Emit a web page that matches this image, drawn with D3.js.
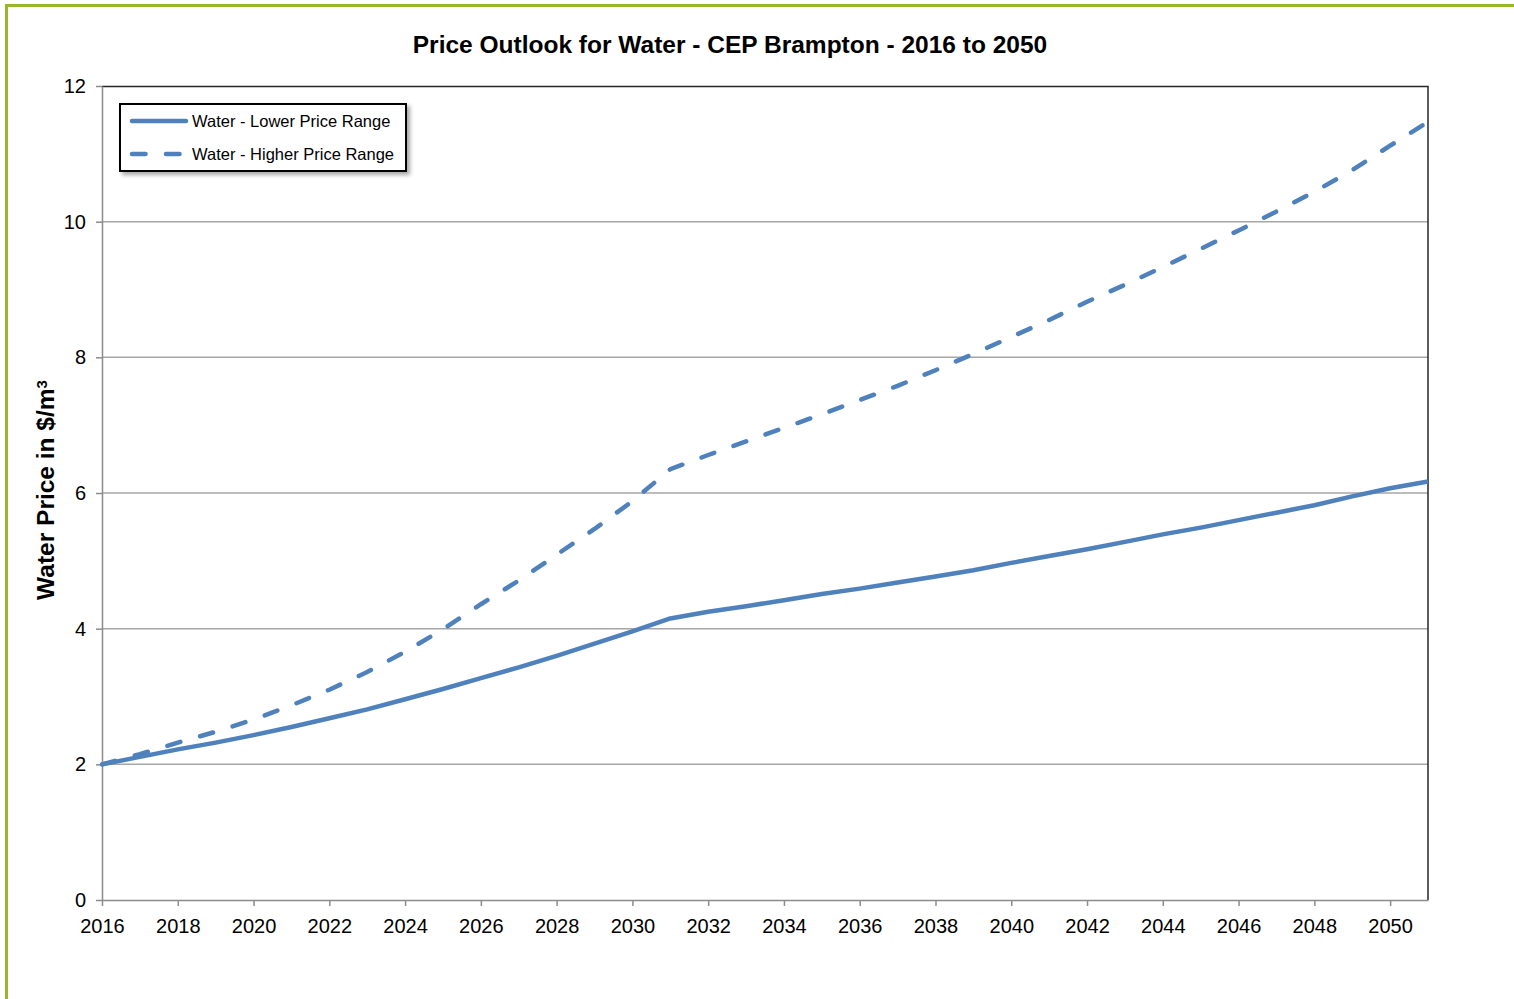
<!DOCTYPE html>
<html>
<head>
<meta charset="utf-8">
<script src="https://cdn.jsdelivr.net/npm/d3@7"></script>
<style>
  body { margin: 0; background: #fff; }
  svg { font-family: "Liberation Sans", Arial, sans-serif; display: block; }
</style>
</head>
<body>
<svg id="chart"></svg>
<script>
// data
var years = d3.range(2016, 2052);
var lowerPrice = [2.00, 2.11, 2.22, 2.32, 2.43, 2.55, 2.68, 2.81, 2.96, 3.11,
                  3.27, 3.43, 3.60, 3.78, 3.96, 4.15, 4.25, 4.33, 4.42, 4.51,
                  4.59, 4.68, 4.77, 4.86, 4.97, 5.07, 5.17, 5.28, 5.39, 5.49,
                  5.60, 5.71, 5.82, 5.95, 6.07, 6.17];
var higherPrice = [2.00, 2.15, 2.32, 2.48, 2.66, 2.87, 3.10, 3.36, 3.66, 3.99,
                   4.36, 4.71, 5.09, 5.47, 5.88, 6.35, 6.56, 6.76, 6.96, 7.16,
                   7.37, 7.58, 7.81, 8.05, 8.30, 8.55, 8.82, 9.07, 9.33, 9.60,
                   9.87, 10.15, 10.44, 10.76, 11.12, 11.47];
var xTicks = d3.range(2016, 2051, 2);
var yTicks = [0, 2, 4, 6, 8, 10, 12];
var seriesNames = ["Water - Lower Price Range", "Water - Higher Price Range"];

var W = 1514, H = 999;
var margin = {top: 86, right: 86, bottom: 99, left: 102},
    width = W - margin.left - margin.right,
    height = H - margin.top - margin.bottom;

var blue = "#4f81bd";

var svg = d3.select("#chart").attr("width", W).attr("height", H);

// green frame (top and left)
svg.append("line").attr("x1", 5).attr("x2", W).attr("y1", 5.5).attr("y2", 5.5)
  .attr("stroke", "#97b82c").attr("stroke-width", 3);
svg.append("line").attr("x1", 6.5).attr("x2", 6.5).attr("y1", 4).attr("y2", H)
  .attr("stroke", "#97b82c").attr("stroke-width", 3);

var g = svg.append("g")
  .attr("transform", "translate(" + margin.left + "," + margin.top + ")");

var x = d3.scaleLinear().domain([2016, 2051]).range([0, width]);
var y = d3.scaleLinear().domain([0, 12]).range([height, 0]);

// gridlines
g.append("g").selectAll("line")
  .data(yTicks.filter(function(d) { return d > 0 && d < 12; }))
  .enter().append("line")
  .attr("x1", 0).attr("x2", width)
  .attr("y1", function(d) { return y(d); }).attr("y2", function(d) { return y(d); })
  .attr("stroke", "#a6a6a6").attr("stroke-width", 1.5);

// top & right border
g.append("path")
  .attr("d", "M0,0.5H" + width + "V" + height)
  .attr("fill", "none").attr("stroke", "#262626").attr("stroke-width", 1.5);

// axes
var xAxis = g.append("g")
  .attr("transform", "translate(0," + height + ")")
  .call(d3.axisBottom(x).tickValues(xTicks).tickFormat(d3.format("d"))
        .tickSizeInner(6).tickSizeOuter(0).tickPadding(8));
var yAxis = g.append("g")
  .call(d3.axisLeft(y).tickValues(yTicks).tickSizeInner(6).tickSizeOuter(0).tickPadding(10));

[xAxis, yAxis].forEach(function(a) {
  a.select(".domain").attr("stroke", "#8c8c8c").attr("stroke-width", 1.5);
  a.selectAll(".tick line").attr("stroke", "#8c8c8c").attr("stroke-width", 1.5);
  a.selectAll(".tick text").attr("fill", "#000").style("font-size", "20px")
    .style("font-family", "'Liberation Sans', Arial, sans-serif");
});
xAxis.selectAll(".tick text").attr("dy", "0.95em");

// lines
var line = d3.line()
  .x(function(d, i) { return x(years[i]); })
  .y(function(d) { return y(d); });

g.append("path").datum(higherPrice)
  .attr("d", line).attr("fill", "none")
  .attr("stroke", blue).attr("stroke-width", 4.5)
  .attr("stroke-dasharray", "13.5,20.5").attr("stroke-linecap", "round");

g.append("path").datum(lowerPrice)
  .attr("d", line).attr("fill", "none")
  .attr("stroke", blue).attr("stroke-width", 4.5)
  .attr("stroke-linejoin", "round");

// title
svg.append("text")
  .attr("x", 730).attr("y", 53)
  .attr("text-anchor", "middle")
  .style("font-size", "24.5px").style("font-weight", "bold")
  .text("Price Outlook for Water - CEP Brampton - 2016 to 2050");

// y axis label
var yl = svg.append("text")
  .attr("transform", "translate(54," + (margin.top + height / 2 - 3) + ") rotate(-90)")
  .attr("text-anchor", "middle")
  .style("font-size", "24.5px").style("font-weight", "bold");
yl.append("tspan").text("Water Price in $/m");
yl.append("tspan").text("3").attr("dy", "-0.45em").style("font-size", "15px");

// legend
var defs = svg.append("defs");
var f = defs.append("filter").attr("id", "shadow").attr("x", "-10%").attr("y", "-20%")
  .attr("width", "130%").attr("height", "150%");
f.append("feDropShadow").attr("dx", 3).attr("dy", 3).attr("stdDeviation", 2)
  .attr("flood-color", "#000").attr("flood-opacity", 0.35);

var legend = svg.append("g").attr("transform", "translate(120,104)");
legend.append("rect")
  .attr("width", 286).attr("height", 67)
  .attr("fill", "#fff").attr("stroke", "#000").attr("stroke-width", 2)
  .attr("filter", "url(#shadow)");

var items = legend.selectAll(".item").data(seriesNames).enter().append("g")
  .attr("transform", function(d, i) { return "translate(0," + (17 + i * 33) + ")"; });
items.append("line")
  .attr("x1", 12).attr("x2", 66).attr("y1", 0).attr("y2", 0)
  .attr("stroke", blue).attr("stroke-width", 4.5)
  .attr("stroke-linecap", "round")
  .attr("stroke-dasharray", function(d, i) { return i === 1 ? "13.5,20.5" : null; });
items.append("text")
  .attr("x", 72).attr("y", 0).attr("dy", "0.35em")
  .style("font-size", "16.5px")
  .text(function(d) { return d; });
</script>
</body>
</html>
